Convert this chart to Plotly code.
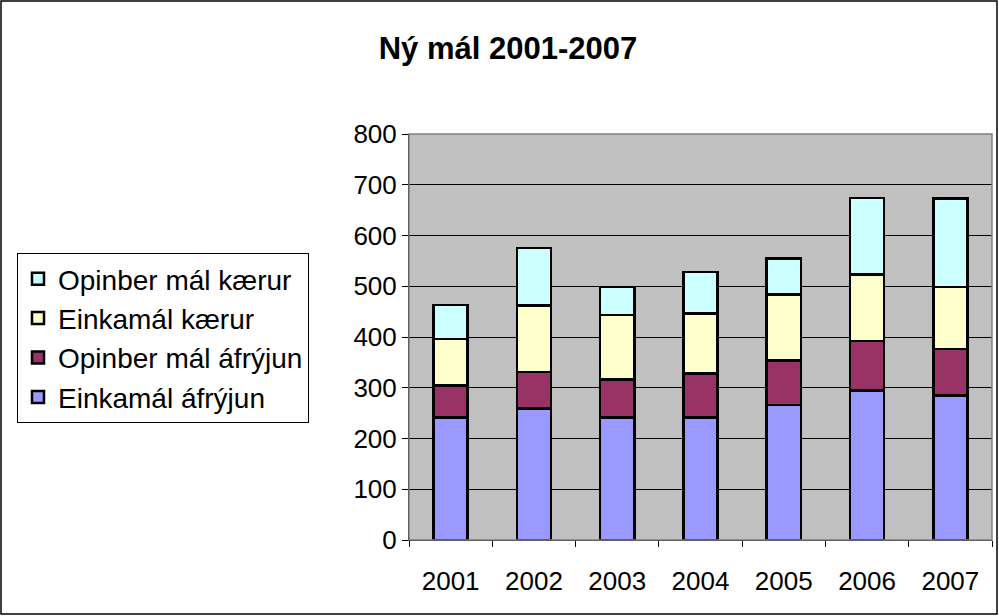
import plotly.graph_objects as go

# Ár og fjöldi mála eftir flokkum (lesið af myndinni)
years = ['2001', '2002', '2003', '2004', '2005', '2006', '2007']
einkamal_afryjun = [241, 259, 241, 241, 266, 295, 285]
opinber_afryjun = [63, 72, 75, 87, 88, 97, 91]
einkamal_kaerur = [92, 131, 127, 118, 130, 131, 123]
opinber_kaerur = [67, 113, 56, 82, 71, 151, 174]

series = [
    ('Einkamál áfrýjun', einkamal_afryjun, '#9999FF'),
    ('Opinber mál áfrýjun', opinber_afryjun, '#993366'),
    ('Einkamál kærur', einkamal_kaerur, '#FFFFCC'),
    ('Opinber mál kærur', opinber_kaerur, '#CCFFFF'),
]

W, H = 999, 616
ML, MR, MT, MB = 409, 7, 134, 76
PW = W - ML - MR
PH = H - MT - MB

fig = go.Figure()
for name, vals, color in series:
    fig.add_trace(go.Bar(
        x=years, y=vals, name=name,
        marker=dict(color=color, line=dict(color='black', width=2.5)),
    ))

fig.update_layout(
    width=W, height=H,
    margin=dict(l=ML, r=MR, t=MT, b=MB),
    barmode='stack',
    bargap=0.59,
    paper_bgcolor='white',
    plot_bgcolor='#C0C0C0',
    font=dict(family='Arial, Liberation Sans, sans-serif', size=26, color='black'),
    title=dict(text='<b>Ný mál 2001-2007</b>', x=508 / W, xanchor='center',
               y=1 - 48 / H, yanchor='middle', font=dict(size=31)),
    legend=dict(
        traceorder='reversed',
        x=(17 - ML) / PW, xanchor='left',
        y=(H - MB - 253) / PH, yanchor='top',
        bordercolor='black', borderwidth=1, bgcolor='white',
        font=dict(size=28),
    ),
    xaxis=dict(
        showline=True, linecolor='black', linewidth=1,
        ticks='outside', tickson='boundaries', ticklen=6, tickcolor='black',
        showgrid=False, ticklabelstandoff=18,
    ),
    yaxis=dict(
        range=[0, 800], dtick=100,
        showline=True, linecolor='black', linewidth=1,
        ticks='outside', ticklen=6, tickcolor='black',
        showgrid=True, gridcolor='black', gridwidth=1,
        zeroline=False,
    ),
)

# rammi um allt grafið og um teiknisvæðið
fig.add_shape(type='rect', xref='paper', yref='paper',
              x0=(1 - ML) / PW, x1=(997 - ML) / PW,
              y0=(H - MB - 614) / PH, y1=(H - MB - 1) / PH,
              line=dict(color='black', width=1.5), layer='below')
fig.add_shape(type='rect', xref='paper', yref='paper',
              x0=0, x1=1, y0=0, y1=1,
              line=dict(color='#808080', width=1.5))

fig.write_html("out.html", config={'displayModeBar': False},
               post_script="document.body.style.margin='0';")
